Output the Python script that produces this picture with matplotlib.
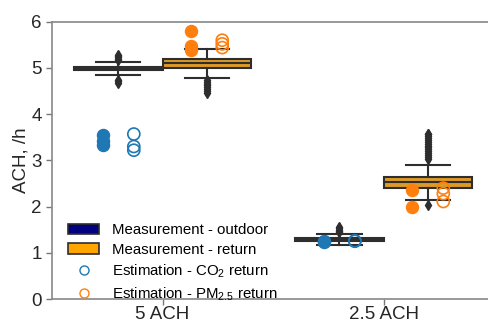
import matplotlib
matplotlib.use("Agg")
import matplotlib.pyplot as plt
from matplotlib.patches import Patch
from matplotlib.lines import Line2D

plt.rcParams["font.family"] = ["Liberation Sans", "DejaVu Sans"]
plt.rcParams["mathtext.default"] = "regular"

categories = ["5 ACH", "2.5 ACH"]

# Box statistics, measured air change rate (1/h)
outdoor_q1 = [4.95, 1.25]
outdoor_med = [4.98, 1.27]
outdoor_q3 = [5.01, 1.31]
outdoor_lo = [4.85, 1.18]
outdoor_hi = [5.12, 1.41]
outdoor_fliers = [
    [5.17, 5.20, 5.23, 5.26, 5.29, 4.68, 4.71, 4.74],
    [1.44, 1.47, 1.50, 1.53, 1.56],
]

return_q1 = [5.00, 2.41]
return_med = [5.10, 2.53]
return_q3 = [5.20, 2.65]
return_lo = [4.78, 2.15]
return_hi = [5.41, 2.91]
return_fliers = [
    [4.46, 4.50, 4.54, 4.58, 4.62, 4.66, 4.70, 4.74],
    [2.04, 3.04, 3.08, 3.12, 3.16, 3.20, 3.24, 3.28, 3.32, 3.36,
     3.40, 3.44, 3.48, 3.52, 3.56, 3.58],
]

# Estimated air change rates (filled and open markers per category)
co2_filled = [[3.55, 3.42, 3.33], [1.24, 1.25]]
co2_open = [[3.57, 3.30, 3.22], [1.25, 1.26]]
pm_filled = [[5.79, 5.48, 5.38], [2.36, 1.99]]
pm_open = [[5.60, 5.52, 5.44], [2.40, 2.28, 2.11]]

navy_box = "#1c1c46"
orange_box = "#dc9a26"
edge = "#2e2e2e"
blue = "#1f77b4"
orange = "#ff7f0e"

fig = plt.figure(figsize=(4.88, 3.24), dpi=100)
ax = fig.add_axes([0.1066, 0.077, 0.906, 0.856])


def stats(q1, med, q3, lo, hi, fl):
    return [dict(q1=a, med=b, q3=c, whislo=d, whishi=e, fliers=f)
            for a, b, c, d, e, f in zip(q1, med, q3, lo, hi, fl)]


common = dict(
    widths=0.4, patch_artist=True, showfliers=True, capwidths=0.2,
    medianprops=dict(color=edge, lw=1.5),
    whiskerprops=dict(color=edge, lw=1.5),
    capprops=dict(color=edge, lw=1.5),
    flierprops=dict(marker="d", markerfacecolor=edge, markeredgecolor=edge,
                    markersize=5.5),
    manage_ticks=False,
)

pos = list(range(len(categories)))
ax.bxp(stats(outdoor_q1, outdoor_med, outdoor_q3, outdoor_lo, outdoor_hi,
             outdoor_fliers),
       positions=[p - 0.2 for p in pos],
       boxprops=dict(facecolor=navy_box, edgecolor=edge, lw=1.5), **common)
ax.bxp(stats(return_q1, return_med, return_q3, return_lo, return_hi,
             return_fliers),
       positions=[p + 0.2 for p in pos],
       boxprops=dict(facecolor=orange_box, edgecolor=edge, lw=1.5), **common)

ms = 75
for i in pos:
    ax.scatter([i - 0.27] * len(co2_filled[i]), co2_filled[i], s=ms,
               color=blue, zorder=4)
    ax.scatter([i - 0.13] * len(co2_open[i]), co2_open[i], s=ms,
               facecolor="none", edgecolor=blue, lw=1.2, zorder=4)
    ax.scatter([i + 0.13] * len(pm_filled[i]), pm_filled[i], s=ms,
               color=orange, zorder=4)
    ax.scatter([i + 0.27] * len(pm_open[i]), pm_open[i], s=ms,
               facecolor="none", edgecolor=orange, lw=1.2, zorder=4)

ax.set_xlim(-0.5, 1.5)
ax.set_ylim(0, 6)
ax.set_xticks(pos)
ax.set_xticklabels(categories)
ax.set_yticks(range(7))
ax.set_ylabel("ACH, /h", fontsize=13.5, color="#262626", labelpad=1)
ax.tick_params(labelsize=13.5, colors="#262626", length=4, width=1,
               color="#777777")
ax.tick_params(axis="x", pad=1)
for s in ax.spines.values():
    s.set_color("#888888")
    s.set_linewidth(1.2)

handles = [
    Patch(facecolor="#000080", edgecolor=edge, lw=1.2),
    Patch(facecolor="#ffa500", edgecolor=edge, lw=1.2),
    Line2D([], [], ls="none", marker="o", markerfacecolor="none",
           markeredgecolor=blue, markersize=6.5),
    Line2D([], [], ls="none", marker="o", markerfacecolor="none",
           markeredgecolor=orange, markersize=6.5),
]
labels = [
    "Measurement - outdoor",
    "Measurement - return",
    "Estimation - CO$_2$ return",
    "Estimation - PM$_{2.5}$ return",
]
ax.legend(handles, labels, loc="lower left", frameon=False, fontsize=10.8,
          borderaxespad=0.1, handlelength=2.05, handletextpad=0.85,
          labelspacing=0.37, bbox_to_anchor=(0.02, -0.04))

fig.savefig("out.png", dpi=100)
